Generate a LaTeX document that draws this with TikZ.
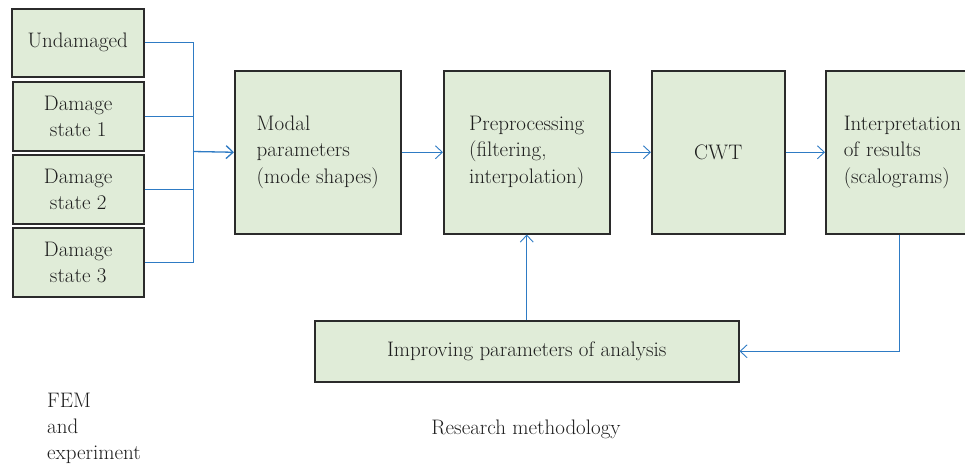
\documentclass[tikz,border=0pt]{standalone}
\usetikzlibrary{arrows.meta}
\definecolor{boxfill}{HTML}{E0ECD8}
\definecolor{boxline}{HTML}{2B2B2B}
\definecolor{conncol}{HTML}{2E7BC4}
\definecolor{txt}{HTML}{1E1E1E}
\begin{document}
\begin{tikzpicture}[x=1pt,y=-1pt,
 box/.style={draw=boxline,fill=boxfill,line width=1.5pt,inner sep=0pt,anchor=north west,text=txt,font=\fontsize{21}{26.5}\selectfont},
 conn/.style={draw=conncol,line width=0.9pt},
 arr/.style={conn,-{Straight Barb[length=7pt,width=13pt]}},
 lbl/.style={inner sep=0pt,text=txt,font=\fontsize{21}{26}\selectfont}]
\clip (0,0) rectangle (965,464);
\node[box,minimum width=132,minimum height=68,align=center] (u) at (11,8) {Undamaged};
\node[box,minimum width=131,minimum height=69,align=center] (d1) at (12,81) {Damage\\state 1};
\node[box,minimum width=131,minimum height=69,align=center] (d2) at (12,154) {Damage\\state 2};
\node[box,minimum width=131,minimum height=69,align=center] (d3) at (12,227) {Damage\\state 3};
\node[box,minimum width=166,minimum height=163,align=left] (modal) at (234,70) {Modal\\parameters\\(mode shapes)};
\node[box,minimum width=166,minimum height=163,align=left] (pre) at (443,70) {Preprocessing\\(filtering,\\interpolation)};
\node[box,minimum width=133,minimum height=163,align=center] (cwt) at (651,70) {CWT};
\node[box,minimum height=163,text width=160pt,inner xsep=18pt,align=left] (interp) at (825,70) {Interpretation\\of results\\(scalograms)};
\node[box,minimum width=424,minimum height=61,align=center] (imp) at (314,320) {Improving parameters of analysis};
\coordinate (bus) at (193,151.5);
\coordinate (fb) at (899,350);
\draw[conn] (u.east) -| (bus);
\draw[conn] (d1.east) -| (bus);
\draw[conn] (d2.east) -| (bus);
\draw[conn] (d3.east) -| (bus);
\draw[arr,line width=1.3pt] (bus) -- (modal.west);
\draw[arr] (modal.east) -- (pre.west);
\draw[arr] (pre.east) -- (cwt.west);
\draw[arr] (cwt.east) -- (interp.west);
\draw[arr] (interp.south -| fb) |- (imp.east);
\draw[arr] (imp.north) -- (pre.south);
\node[lbl,align=left,anchor=north west] (fem) at (47,393) {FEM\\and\\experiment};
\node[lbl] (rm) at (526,429) {Research methodology};
\end{tikzpicture}
\end{document}
